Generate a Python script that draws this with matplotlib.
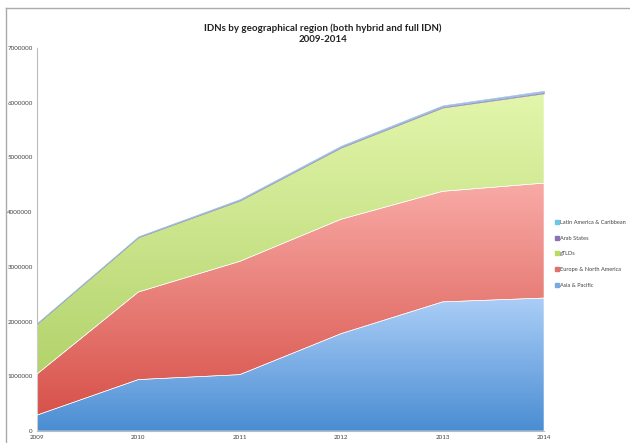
import numpy as np
import matplotlib
matplotlib.use("Agg")
import matplotlib.pyplot as plt
from matplotlib.colors import LinearSegmentedColormap
from matplotlib.lines import Line2D

years = [2009, 2010, 2011, 2012, 2013, 2014]

# registered IDNs per region (stack order, bottom first)
asia_pacific = [290000, 940000, 1030000, 1780000, 2360000, 2430000]
europe_north_america = [750000, 1600000, 2070000, 2090000, 2020000, 2100000]
gtlds = [920000, 1000000, 1110000, 1310000, 1530000, 1640000]
arab_states = [5000, 8000, 12000, 15000, 18000, 20000]
latin_america = [8000, 12000, 18000, 22000, 25000, 30000]

series = [
    ("Asia & Pacific", asia_pacific, "#4a8dd3", "#abcef7"),
    ("Europe & North America", europe_north_america, "#d7524a", "#f9aaa6"),
    ("gTLDs", gtlds, "#b2d36b", "#e3f6ac"),
    ("Arab States", arab_states, "#9a8cbc", "#9a8cbc"),
    ("Latin America & Caribbean", latin_america, "#9dbfe2", "#9dbfe2"),
]
legend_colors = ["#6cc6e6", "#8a74b4", "#b8dc60", "#e0706a", "#79a8e3"]

plt.rcParams['font.family'] = ['Lato', 'DejaVu Sans']

fig = plt.figure(figsize=(6.3, 4.43), dpi=100)
ax = fig.add_axes([37 / 630, 1 - 431 / 443, (544 - 37) / 630, (431 - 48) / 443])

x = np.array(years, dtype=float)
base = np.zeros(len(years))
for name, vals, dark, light in series:
    top = base + np.array(vals)
    if dark == light:
        ax.fill_between(x, base, top, facecolor=dark, edgecolor=dark, linewidth=0.3, zorder=3)
    else:
        poly = ax.fill_between(x, base, top, facecolor="none", edgecolor="#ffffff",
                               linewidth=0.4, zorder=3)
        cmap = LinearSegmentedColormap.from_list(name, [dark, light])
        grad = np.linspace(0, 1, 256).reshape(-1, 1)
        im = ax.imshow(grad, cmap=cmap, aspect="auto", origin="lower",
                       extent=[x[0], x[-1], base.min(), top.max()], zorder=2)
        im.set_clip_path(poly.get_paths()[0], transform=ax.transData)
    base = top

ax.set_xlim(2009, 2014)
ax.set_ylim(0, 7000000)
ax.set_xticks(years)
ax.set_xticklabels([str(y) for y in years])
ax.set_yticks(range(0, 7000001, 1000000))
ax.set_yticklabels([str(v) for v in range(0, 7000001, 1000000)])
ax.tick_params(length=0, labelsize=4.5, colors="#444444", pad=3)
for s in ("top", "right"):
    ax.spines[s].set_visible(False)
for s in ("left", "bottom"):
    ax.spines[s].set_color("#bbbbbb")
    ax.spines[s].set_linewidth(0.8)

fig.text(323 / 630, 1 - 34 / 443, "IDNs by geographical region (both hybrid and full IDN)\n2009-2014",
         ha="center", va="center", fontsize=7, fontweight="bold",
         linespacing=1.3, color="#222222")

handles = [Line2D([], [], marker="s", linestyle="none", markersize=2.5, color=c)
           for c in legend_colors]
leg = fig.legend(handles, [s[0] for s in series[::-1]], loc="upper left",
                 bbox_to_anchor=(553 / 630, 1 - 217 / 443), frameon=False,
                 fontsize=4.1, handlelength=0.5, handletextpad=0.25,
                 labelspacing=1.9, borderpad=0)
for t in leg.get_texts():
    t.set_color("#444444")

# outer chart frame
fig.add_artist(Line2D([6 / 630, 1], [1 - 8 / 443] * 2, color="#aaaaaa", linewidth=1))
fig.add_artist(Line2D([6 / 630] * 2, [0, 1 - 8 / 443], color="#aaaaaa", linewidth=1))

fig.savefig("out.png", dpi=100)
